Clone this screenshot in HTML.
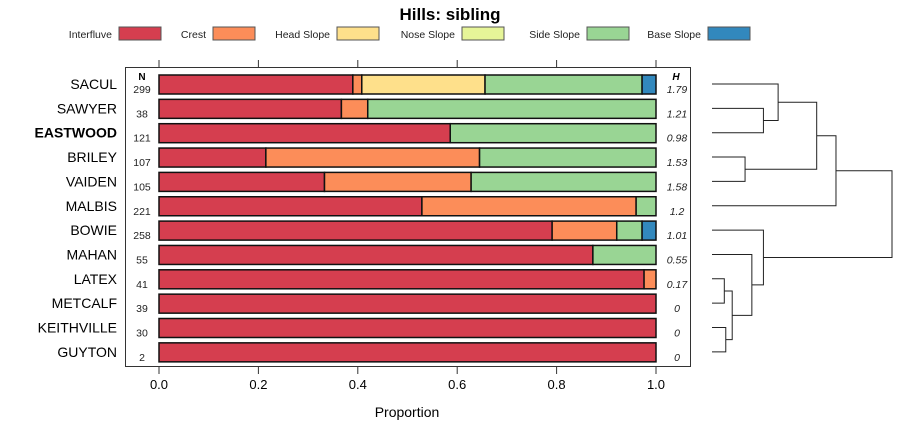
<!DOCTYPE html>
<html><head><meta charset="utf-8"><style>
body{margin:0;background:#fff;font-family:"Liberation Sans",sans-serif}
svg text{font-family:"Liberation Sans",sans-serif}
</style></head><body>
<svg id="c" width="900" height="440" xmlns="http://www.w3.org/2000/svg"></svg>
<script>
const names=["SACUL","SAWYER","EASTWOOD","BRILEY","VAIDEN","MALBIS","BOWIE","MAHAN","LATEX","METCALF","KEITHVILLE","GUYTON"];
const counts=[299,38,121,107,105,221,258,55,41,39,30,2];
const entropy=["1.79","1.21","0.98","1.53","1.58","1.2","1.01","0.55","0.17","0","0","0"];
const classes=["Interfluve","Crest","Head Slope","Nose Slope","Side Slope","Base Slope"];
const colors=["#d53e4f","#fc8d59","#fee08b","#e6f598","#99d594","#3288bd"];
const interfluve=[0.39,0.367,0.586,0.215,0.333,0.529,0.791,0.873,0.976,1,1,1];
const crest=[0.018,0.053,0,0.43,0.295,0.431,0.13,0,0.024,0,0,0];
const headSlope=[0.248,0,0,0,0,0,0,0,0,0,0,0];
const noseSlope=[0,0,0,0,0,0,0,0,0,0,0,0];
const sideSlope=[0.316,0.58,0.414,0.355,0.372,0.04,0.051,0.127,0,0,0,0];
const baseSlope=[0.028,0,0,0,0,0,0.028,0,0,0,0,0];
const ticks=[0,0.2,0.4,0.6,0.8,1.0];
const tickLabels=["0.0","0.2","0.4","0.6","0.8","1.0"];
// dendrogram: merges [leftNode,rightNode,height]; leaves are 0..11, new nodes 12+
const merges=[[8,9,0.067],[10,11,0.075],[12,13,0.11],[1,2,0.28],[3,4,0.18],[0,15,0.36],[7,14,0.217],[6,18,0.28],[17,16,0.57],[20,5,0.675],[21,19,0.98]];

const S=document.getElementById('c'),NS="http://www.w3.org/2000/svg";
function mk(t,a,txt){const e=document.createElementNS(NS,t);for(const k in a)e.setAttribute(k,a[k]);if(txt!=null)e.textContent=txt;S.appendChild(e);return e;}
const x=v=>159+v*497, y=i=>84+i*24.35;
let e;
e=mk('text',{x:450,y:20,'text-anchor':'middle','font-size':17,'font-weight':'bold'},'Hills: sibling');

const legX=[112,206,330,455,580,701];
classes.forEach((c,i)=>{
 e=mk('text',{x:legX[i],y:38,'text-anchor':'end','font-size':10.5,fill:'#222'},c);
 
 e=mk('rect',{x:legX[i]+7,y:27,width:42,height:13,fill:colors[i],stroke:'#555','stroke-width':1});
 
});
e=mk('rect',{x:125.5,y:67.5,width:565,height:299,fill:'none',stroke:'#333'});

ticks.forEach((t,i)=>{
 mk('line',{x1:x(t),x2:x(t),y1:60,y2:67,stroke:'#333'});
 mk('line',{x1:x(t),x2:x(t),y1:367,y2:374,stroke:'#333'});
 e=mk('text',{x:x(t),y:389,'text-anchor':'middle','font-size':13},tickLabels[i]);
 
});
e=mk('text',{x:407,y:417,'text-anchor':'middle','font-size':14},'Proportion');

mk('text',{x:142,y:80,'text-anchor':'middle','font-size':10,'font-weight':'bold'},'N');
mk('text',{x:676,y:80,'text-anchor':'middle','font-size':10,'font-weight':'bold','font-style':'italic'},'H');
const series=[interfluve,crest,headSlope,noseSlope,sideSlope,baseSlope];
names.forEach((n,i)=>{
 const yc=y(i);
 e=mk('text',{x:117,y:yc+5,'text-anchor':'end','font-size':14,'font-weight':n==='EASTWOOD'?'bold':'normal'},n);
 
 e=mk('text',{x:142,y:yc+9,'text-anchor':'middle','font-size':10.5,fill:'#222'},counts[i]);
 
 e=mk('text',{x:677,y:yc+9,'text-anchor':'middle','font-size':10.5,'font-style':'italic',fill:'#222'},entropy[i]);
 
 let cum=0;
 series.forEach((s,k)=>{
  if(s[i]<=0)return;
  e=mk('rect',{x:x(cum),y:yc-9,width:x(cum+s[i])-x(cum),height:19,fill:colors[k],stroke:'#111','stroke-width':1.5});
  
  cum+=s[i];
 });
});
// dendrogram
const dx=h=>712+h*(892-712)/0.98;
const pos=names.map((_,i)=>({y:y(i),h:0}));
merges.forEach(m=>{
 const a=pos[m[0]],b=pos[m[1]],X=dx(m[2]);
 e=mk('path',{d:`M${dx(a.h)},${a.y}H${X}V${b.y}H${dx(b.h)}`,fill:'none',stroke:'#222','stroke-width':1});
 
 pos.push({y:(a.y+b.y)/2,h:m[2]});
});
</script>
</body></html>
